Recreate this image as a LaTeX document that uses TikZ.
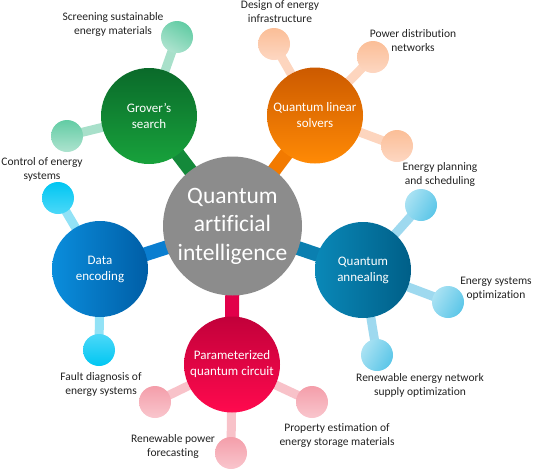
\documentclass[tikz,border=0pt]{standalone}
\usepackage{fontspec}
\setmainfont{Carlito}[Ligatures=NoCommon]
\pgfdeclarelayer{background}
\pgfsetlayers{background,main}
\definecolor{grn}{HTML}{14893A}
\definecolor{grnT}{HTML}{0A6A2A}
\definecolor{grnB}{HTML}{18A23C}
\definecolor{mintT}{HTML}{62CCA4}
\definecolor{mintB}{HTML}{AEE3CF}
\definecolor{mintL}{HTML}{A8E0CA}
\definecolor{orT}{HTML}{CC5A00}
\definecolor{orB}{HTML}{FF8A05}
\definecolor{orC}{HTML}{F27A00}
\definecolor{peachT}{HTML}{FBBE97}
\definecolor{peachB}{HTML}{FDD7C2}
\definecolor{peachL}{HTML}{FDD5BE}
\definecolor{deL}{HTML}{0A8DDC}
\definecolor{deR}{HTML}{005EA6}
\definecolor{deC}{HTML}{0A7ED0}
\definecolor{cyT}{HTML}{00C6F2}
\definecolor{cyB}{HTML}{4CD8F8}
\definecolor{cyL}{HTML}{92E2F6}
\definecolor{qaL}{HTML}{0A88B8}
\definecolor{qaR}{HTML}{005F88}
\definecolor{qaC}{HTML}{0A7FB0}
\definecolor{lbT}{HTML}{5BC6E8}
\definecolor{lbB}{HTML}{AAE2F3}
\definecolor{lbL}{HTML}{9ED9EF}
\definecolor{pqT}{HTML}{C2003A}
\definecolor{pqB}{HTML}{FF0A4E}
\definecolor{pqC}{HTML}{E2004A}
\definecolor{pkT}{HTML}{F49EAA}
\definecolor{pkB}{HTML}{F9C6CD}
\definecolor{pkL}{HTML}{F8C2C9}
\definecolor{gry}{HTML}{8C8C8C}
\definecolor{txt}{HTML}{222222}
\begin{document}
\begin{tikzpicture}[x=1pt,y=-1pt,
  hub/.style={circle,inner sep=0pt,minimum size=139pt,fill=gry,text=white,align=center,
    font=\fontsize{23.5}{28.5}\selectfont},
  mainc/.style={circle,inner sep=0pt,minimum size=96pt,text=white,align=center,
    font=\fontsize{13}{16}\selectfont},
  leaf/.style={circle,inner sep=0pt,minimum size=32pt},
  lbl/.style={align=center,text=txt,inner sep=0pt,font=\fontsize{11.5}{14}\selectfont},
  bigbar/.style={line width=14pt},
  smallbar/.style={line width=9pt}]
\useasboundingbox (0,0) rectangle (533,469);
% hub
\node[hub] (qai) at (232.5,226) {Quantum\\artificial\\intelligence};
% main circles
\node[mainc,top color=grnT,bottom color=grnB] (gs) at (149,116) {Grover’s\\search};
\node[mainc,top color=orT,bottom color=orB] (qls) at (315,115.5) {Quantum linear\\solvers};
\node[mainc,left color=deL,right color=deR] (de) at (100,269) {Data\\encoding};
\node[mainc,left color=qaL,right color=qaR] (qa) at (363,270) {Quantum\\annealing};
\node[mainc,top color=pqT,bottom color=pqB] (pqc) at (232,364.5) {Parameterized\\quantum circuit};
% leaves
\node[leaf,top color=mintT,bottom color=mintB,shading angle=-30] (g1) at (177,37) {};
\node[leaf,top color=mintT,bottom color=mintB] (g2) at (67,136) {};
\node[leaf,top color=peachT,bottom color=peachB] (o1) at (274,44) {};
\node[leaf,top color=peachT,bottom color=peachB] (o2) at (373,57) {};
\node[leaf,top color=peachT,bottom color=peachB] (o3) at (397,146) {};
\node[leaf,top color=cyT,bottom color=cyB] (d1) at (58,198) {};
\node[leaf,top color=cyB,bottom color=cyT] (d2) at (99,350) {};
\node[leaf,top color=lbT,bottom color=lbB,shading angle=-120] (a1) at (421,205) {};
\node[leaf,top color=lbT,bottom color=lbB,shading angle=-120] (a2) at (448,302) {};
\node[leaf,top color=lbT,bottom color=lbB,shading angle=-120] (a3) at (377,355) {};
\node[leaf,top color=pkT,bottom color=pkB] (p1) at (155,402) {};
\node[leaf,top color=pkT,bottom color=pkB] (p2) at (231,453) {};
\node[leaf,top color=pkT,bottom color=pkB] (p3) at (312,402) {};
% connectors
\begin{pgfonlayer}{background}
\draw[bigbar,grn] (qai.center) -- (gs.center);
\draw[bigbar,orC] (qai.center) -- (qls.center);
\draw[bigbar,deC] (qai.center) -- (de.center);
\draw[bigbar,qaC] (qai.center) -- (qa.center);
\draw[bigbar,pqC] (qai.center) -- (pqc.center);
\draw[smallbar,mintL] (gs.center) -- (g1.center);
\draw[smallbar,mintL] (gs.center) -- (g2.center);
\draw[smallbar,peachL] (qls.center) -- (o1.center);
\draw[smallbar,peachL] (qls.center) -- (o2.center);
\draw[smallbar,peachL] (qls.center) -- (o3.center);
\draw[smallbar,cyL] (de.center) -- (d1.center);
\draw[smallbar,cyL] (de.center) -- (d2.center);
\draw[smallbar,lbL] (qa.center) -- (a1.center);
\draw[smallbar,lbL] (qa.center) -- (a2.center);
\draw[smallbar,lbL] (qa.center) -- (a3.center);
\draw[smallbar,pkL] (pqc.center) -- (p1.center);
\draw[smallbar,pkL] (pqc.center) -- (p2.center);
\draw[smallbar,pkL] (pqc.center) -- (p3.center);
\end{pgfonlayer}
% labels
\node[lbl] (t1) at (113,24) {Screening sustainable\\energy materials};
\node[lbl] (t2) at (280,12) {Design of energy\\infrastructure};
\node[lbl] (t3) at (413,41) {Power distribution\\networks};
\node[lbl] (t4) at (440,174) {Energy planning\\and scheduling};
\node[lbl] (t5) at (42,169) {Control of energy\\systems};
\node[lbl] (t6) at (496,289) {Energy systems\\optimization};
\node[lbl] (t7) at (420,385) {Renewable energy network\\supply optimization};
\node[lbl] (t8) at (337,436) {Property estimation of\\energy storage materials};
\node[lbl] (t9) at (173,446) {Renewable power\\forecasting};
\node[lbl] (t10) at (101,384) {Fault diagnosis of\\energy systems};
\end{tikzpicture}
\end{document}
